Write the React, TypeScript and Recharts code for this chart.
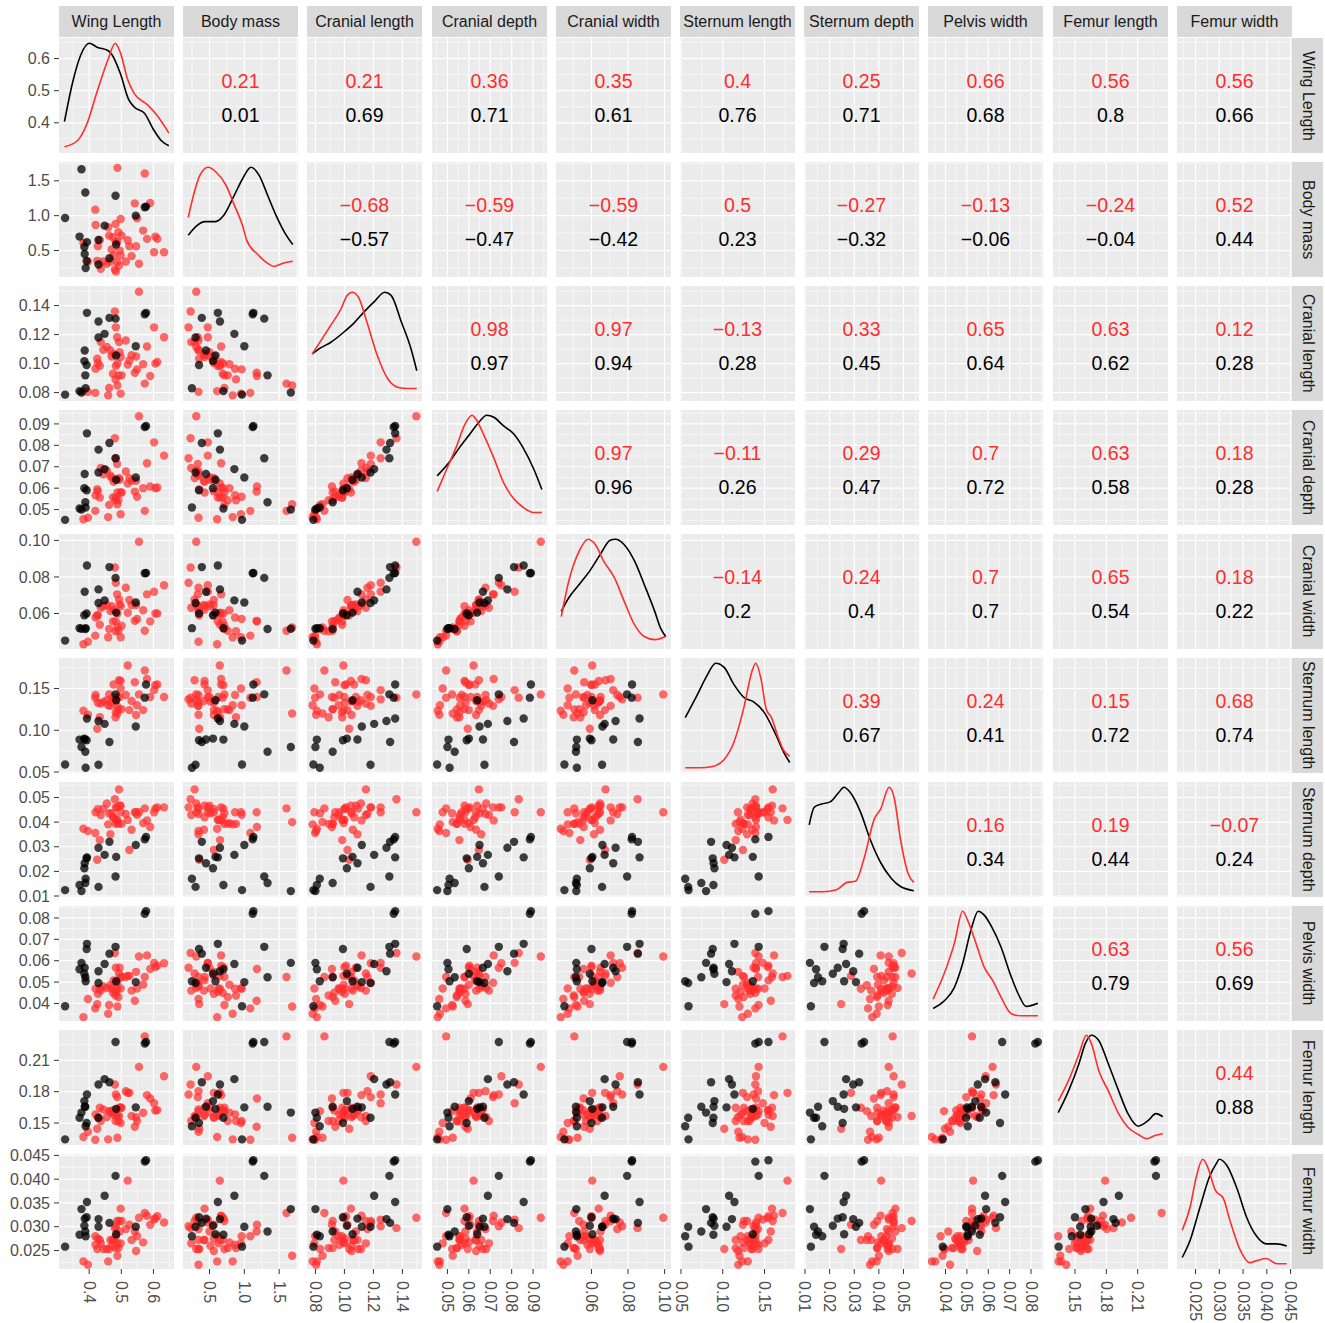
import React from 'react'
import { ComposedChart, Scatter, Line, XAxis, YAxis, CartesianGrid } from 'recharts'

const FONT = "'Liberation Sans', Arial, Helvetica, sans-serif"
const RED = '#FF2D2D'
const PANEL_BG = '#EBEBEB'
const PANEL = 115
const AXIS_W = 57
const AXIS_H = 56
const PAD = 14 // room around each panel so edge tick labels are not clipped

const varNames = [
  'Wing Length', 'Body mass', 'Cranial length', 'Cranial depth', 'Cranial width',
  'Sternum length', 'Sternum depth', 'Pelvis width', 'Femur length', 'Femur width',
]

// scale limits and breaks per measurement
const limits = [
  [0.306, 0.664], [0.12, 1.77], [0.0742, 0.1535], [0.0428, 0.0965], [0.0406, 0.1035],
  [0.0488, 0.1865], [0.0096, 0.0563], [0.0318, 0.0856], [0.129, 0.239], [0.0211, 0.0453],
]
const breaks = [
  [0.4, 0.5, 0.6],
  [0.5, 1.0, 1.5],
  [0.08, 0.10, 0.12, 0.14],
  [0.05, 0.06, 0.07, 0.08, 0.09],
  [0.06, 0.08, 0.10],
  [0.05, 0.10, 0.15],
  [0.01, 0.02, 0.03, 0.04, 0.05],
  [0.04, 0.05, 0.06, 0.07, 0.08],
  [0.15, 0.18, 0.21],
  [0.025, 0.030, 0.035, 0.040, 0.045],
]
const decimals = [1, 1, 2, 2, 2, 2, 2, 2, 2, 3]

// red group, one entry per bird
const redWing = [0.382, 0.396, 0.419, 0.420, 0.425, 0.427, 0.433, 0.436, 0.444, 0.455, 0.459, 0.462, 0.466, 0.470, 0.474, 0.476, 0.480, 0.482, 0.483, 0.483, 0.487, 0.488, 0.488, 0.491, 0.493, 0.495, 0.498, 0.501, 0.498, 0.514, 0.520, 0.525, 0.532, 0.542, 0.546, 0.549, 0.555, 0.568, 0.573, 0.580, 0.590, 0.602, 0.606, 0.612, 0.633]
const redMass = [0.610, 0.343, 1.086, 0.867, 0.352, 0.562, 0.652, 0.238, 0.343, 0.310, 0.833, 0.714, 0.343, 0.514, 0.690, 0.429, 0.229, 0.881, 0.200, 0.620, 0.333, 0.629, 1.686, 0.762, 0.286, 0.500, 0.430, 0.714, 0.952, 0.343, 0.648, 0.562, 0.420, 1.176, 0.562, 0.962, 0.310, 0.786, 1.605, 0.667, 1.181, 0.476, 0.700, 0.667, 0.476]
const redCranLen = [0.0810, 0.0805, 0.0798, 0.0965, 0.1033, 0.1003, 0.0985, 0.1148, 0.1095, 0.1114, 0.0781, 0.0832, 0.1090, 0.1049, 0.0930, 0.1067, 0.1359, 0.0891, 0.1250, 0.0983, 0.1182, 0.1000, 0.0849, 0.0919, 0.1148, 0.1079, 0.1045, 0.0919, 0.0793, 0.1159, 0.0993, 0.1021, 0.1058, 0.0937, 0.1049, 0.0960, 0.1496, 0.0995, 0.0862, 0.1118, 0.0914, 0.1250, 0.1000, 0.1011, 0.1182]
const redCranDepth = [0.0455, 0.0462, 0.0494, 0.0567, 0.0595, 0.0585, 0.0556, 0.0694, 0.0665, 0.0681, 0.0465, 0.0522, 0.0658, 0.0650, 0.0557, 0.0630, 0.0833, 0.0544, 0.0740, 0.0556, 0.0713, 0.0580, 0.0525, 0.0544, 0.0647, 0.0639, 0.0580, 0.0580, 0.0478, 0.0678, 0.0622, 0.0647, 0.0634, 0.0584, 0.0634, 0.0560, 0.0936, 0.0600, 0.0494, 0.0716, 0.0608, 0.0814, 0.0600, 0.0603, 0.0752]
const redCranWidth = [0.0432, 0.0446, 0.0479, 0.0578, 0.0591, 0.0590, 0.0539, 0.0632, 0.0640, 0.0647, 0.0470, 0.0515, 0.0614, 0.0640, 0.0557, 0.0620, 0.0852, 0.0503, 0.0768, 0.0557, 0.0705, 0.0600, 0.0524, 0.0506, 0.0677, 0.0650, 0.0640, 0.0533, 0.0470, 0.0741, 0.0604, 0.0674, 0.0647, 0.0560, 0.0647, 0.0570, 0.0993, 0.0618, 0.0506, 0.0705, 0.0557, 0.0719, 0.0600, 0.0600, 0.0755]
const redSternLen = [0.1233, 0.1186, 0.1390, 0.1422, 0.1018, 0.1330, 0.1155, 0.1320, 0.1340, 0.1359, 0.1300, 0.1429, 0.1292, 0.1343, 0.1390, 0.1547, 0.1390, 0.1155, 0.1370, 0.1214, 0.1292, 0.1398, 0.1200, 0.1250, 0.1598, 0.1398, 0.1590, 0.1253, 0.1500, 0.1422, 0.1775, 0.1241, 0.1351, 0.1575, 0.1182, 0.1300, 0.1429, 0.1241, 0.1716, 0.1614, 0.1398, 0.1480, 0.1540, 0.1547, 0.1398]
const redSternDepth = [0.0373, 0.0364, 0.0356, 0.0440, 0.0247, 0.0453, 0.0327, 0.0429, 0.0455, 0.0476, 0.0391, 0.0436, 0.0351, 0.0436, 0.0420, 0.0420, 0.0493, 0.0393, 0.0460, 0.0410, 0.0460, 0.0409, 0.0400, 0.0393, 0.0533, 0.0467, 0.0467, 0.0393, 0.0440, 0.0433, 0.0409, 0.0287, 0.0369, 0.0440, 0.0440, 0.0430, 0.0440, 0.0396, 0.0456, 0.0407, 0.0380, 0.0440, 0.0455, 0.0460, 0.0460]
const redPelvis = [0.0336, 0.0421, 0.0377, 0.0469, 0.0397, 0.0445, 0.0469, 0.0460, 0.0480, 0.0472, 0.0352, 0.0393, 0.0485, 0.0470, 0.0450, 0.0508, 0.0636, 0.0437, 0.0567, 0.0455, 0.0497, 0.0469, 0.0386, 0.0430, 0.0540, 0.0567, 0.0524, 0.0524, 0.0470, 0.0524, 0.0529, 0.0529, 0.0460, 0.0413, 0.0548, 0.0470, 0.0620, 0.0488, 0.0524, 0.0625, 0.0561, 0.0590, 0.0570, 0.0577, 0.0588]
const redFemurLen = [0.1367, 0.1417, 0.1340, 0.1583, 0.1446, 0.1550, 0.1646, 0.1519, 0.1630, 0.1557, 0.1344, 0.1614, 0.1614, 0.1600, 0.1620, 0.1580, 0.1868, 0.1519, 0.1773, 0.1580, 0.1748, 0.1567, 0.1360, 0.1520, 0.1567, 0.1650, 0.1646, 0.1646, 0.1500, 0.1805, 0.1789, 0.1789, 0.1567, 0.1465, 0.1557, 0.1520, 0.2037, 0.1598, 0.2329, 0.1767, 0.1735, 0.1690, 0.1620, 0.1624, 0.1948]
const redFemurWidth = [0.0227, 0.0220, 0.0280, 0.0262, 0.0253, 0.0275, 0.0272, 0.0265, 0.0253, 0.0253, 0.0227, 0.0253, 0.0272, 0.0260, 0.0272, 0.0272, 0.0297, 0.0255, 0.0301, 0.0280, 0.0312, 0.0265, 0.0239, 0.0255, 0.0312, 0.0290, 0.0338, 0.0312, 0.0265, 0.0295, 0.0397, 0.0304, 0.0272, 0.0290, 0.0249, 0.0280, 0.0319, 0.0267, 0.0329, 0.0323, 0.0304, 0.0315, 0.0318, 0.0322, 0.0309]

// black group
const blackWing = [0.325, 0.376, 0.370, 0.389, 0.388, 0.385, 0.386, 0.393, 0.392, 0.429, 0.429, 0.448, 0.463, 0.482, 0.484, 0.545, 0.577, 0.573]
const blackMass = [0.967, 1.667, 0.700, 0.248, 1.333, 0.550, 0.450, 0.620, 0.350, 0.650, 0.300, 0.857, 0.390, 1.286, 0.586, 1.000, 1.130, 1.120]
const blackCranLen = [0.0786, 0.0800, 0.0810, 0.0830, 0.0919, 0.1017, 0.1090, 0.1350, 0.0990, 0.1290, 0.1180, 0.1205, 0.1315, 0.1310, 0.1056, 0.1120, 0.1350, 0.1340]
const blackCranDepth = [0.0452, 0.0500, 0.0505, 0.0510, 0.0534, 0.0600, 0.0666, 0.0856, 0.0590, 0.0780, 0.0673, 0.0689, 0.0811, 0.0740, 0.0639, 0.0650, 0.0890, 0.0885]
const blackCranWidth = [0.0452, 0.0517, 0.0520, 0.0520, 0.0515, 0.0591, 0.0719, 0.0863, 0.0600, 0.0732, 0.0658, 0.0672, 0.0854, 0.0795, 0.0605, 0.0660, 0.0822, 0.0820]
const blackSternLen = [0.0590, 0.0800, 0.0888, 0.0550, 0.0743, 0.0900, 0.0890, 0.1140, 0.0880, 0.1110, 0.0586, 0.1076, 0.0860, 0.1430, 0.1360, 0.1045, 0.1547, 0.1390]
const blackSternDepth = [0.0124, 0.0120, 0.0145, 0.0170, 0.0153, 0.0213, 0.0233, 0.0257, 0.0253, 0.0296, 0.0137, 0.0267, 0.0320, 0.0179, 0.0259, 0.0307, 0.0340, 0.0330]
const blackPelvis = [0.0387, 0.0590, 0.0560, 0.0504, 0.0523, 0.0539, 0.0567, 0.0679, 0.0655, 0.0551, 0.0496, 0.0585, 0.0633, 0.0665, 0.0504, 0.0500, 0.0832, 0.0820]
const blackFemurLen = [0.1344, 0.1600, 0.1550, 0.1470, 0.1656, 0.1710, 0.1656, 0.1773, 0.1500, 0.1868, 0.1550, 0.1920, 0.1890, 0.2275, 0.1636, 0.1650, 0.2275, 0.2260]
const blackFemurWidth = [0.0258, 0.0337, 0.0283, 0.0280, 0.0290, 0.0302, 0.0317, 0.0352, 0.0320, 0.0316, 0.0300, 0.0365, 0.0308, 0.0407, 0.0284, 0.0300, 0.0440, 0.0437]

// density curves on the diagonal: [value, density relative to panel peak]
const wingDensRed = [[0.323, 0.01], [0.364, 0.07], [0.393, 0.23], [0.426, 0.55], [0.458, 0.84], [0.481, 1], [0.497, 0.91], [0.52, 0.65], [0.54, 0.52], [0.582, 0.41], [0.611, 0.31], [0.648, 0.14]]
const wingDensBlack = [[0.323, 0.25], [0.348, 0.62], [0.374, 0.89], [0.4, 1], [0.426, 0.96], [0.458, 0.93], [0.471, 0.89], [0.497, 0.71], [0.523, 0.46], [0.54, 0.39], [0.572, 0.33], [0.601, 0.17], [0.624, 0.07], [0.648, 0.02]]
const massDensRed = [[0.195, 0.52], [0.27, 0.73], [0.36, 0.92], [0.48, 1], [0.6, 0.95], [0.735, 0.83], [0.855, 0.64], [0.975, 0.44], [1.035, 0.3], [1.185, 0.17], [1.335, 0.08], [1.425, 0.05], [1.545, 0.08], [1.695, 0.1]]
const massDensBlack = [[0.195, 0.35], [0.315, 0.44], [0.435, 0.48], [0.585, 0.48], [0.705, 0.54], [0.855, 0.73], [0.975, 0.89], [1.095, 1], [1.215, 0.92], [1.335, 0.73], [1.455, 0.54], [1.575, 0.38], [1.695, 0.26]]
const cranLenDensRed = [[0.0778, 0.4], [0.0839, 0.53], [0.0904, 0.67], [0.0976, 0.83], [0.1019, 0.96], [0.1055, 0.99], [0.1098, 0.94], [0.1156, 0.7], [0.1228, 0.38], [0.13, 0.16], [0.1372, 0.08], [0.1437, 0.07], [0.1499, 0.07]]
const cranLenDensBlack = [[0.0778, 0.4], [0.0839, 0.46], [0.0904, 0.51], [0.0997, 0.61], [0.1069, 0.7], [0.1134, 0.8], [0.1206, 0.9], [0.1278, 0.99], [0.1322, 0.96], [0.1394, 0.7], [0.1459, 0.45], [0.1499, 0.24]]
const cranDepthDensRed = [[0.0452, 0.27], [0.0498, 0.49], [0.0542, 0.7], [0.0581, 0.91], [0.0615, 1], [0.0634, 0.96], [0.0668, 0.82], [0.0717, 0.59], [0.0761, 0.36], [0.081, 0.2], [0.0853, 0.12], [0.0902, 0.07], [0.0941, 0.07]]
const cranDepthDensBlack = [[0.0452, 0.42], [0.0512, 0.56], [0.0556, 0.69], [0.0605, 0.82], [0.0654, 0.95], [0.0683, 1], [0.0717, 0.98], [0.0761, 0.9], [0.081, 0.82], [0.0853, 0.69], [0.0902, 0.49], [0.0941, 0.29]]
const cranWidthDensRed = [[0.0435, 0.26], [0.0476, 0.6], [0.0534, 0.89], [0.058, 1], [0.0621, 0.95], [0.0667, 0.79], [0.0726, 0.63], [0.0778, 0.41], [0.0836, 0.18], [0.0888, 0.07], [0.0946, 0.04], [0.1006, 0.07]]
const cranWidthDensBlack = [[0.0435, 0.31], [0.0476, 0.44], [0.0534, 0.57], [0.0592, 0.7], [0.065, 0.86], [0.0702, 0.99], [0.0731, 1], [0.0778, 0.95], [0.0836, 0.79], [0.0888, 0.57], [0.0946, 0.31], [0.0978, 0.15], [0.1006, 0.07]]
const sternLenDensRed = [[0.0551, 0], [0.0727, 0], [0.0866, 0.01], [0.1017, 0.08], [0.1131, 0.24], [0.1257, 0.59], [0.1345, 0.91], [0.1395, 1], [0.1458, 0.85], [0.1521, 0.56], [0.1584, 0.48], [0.166, 0.3], [0.1735, 0.16], [0.1802, 0.11]]
const sternLenDensBlack = [[0.0551, 0.48], [0.069, 0.69], [0.0803, 0.87], [0.0916, 1], [0.1017, 0.96], [0.1131, 0.8], [0.1257, 0.67], [0.137, 0.63], [0.1496, 0.53], [0.1622, 0.34], [0.1735, 0.14], [0.1802, 0.05]]
const sternDepthDensRed = [[0.0117, 0], [0.0173, 0], [0.0228, 0.02], [0.0271, 0.09], [0.0305, 0.1], [0.0339, 0.31], [0.0382, 0.7], [0.0407, 0.79], [0.0442, 1], [0.0463, 0.89], [0.0488, 0.5], [0.0518, 0.18], [0.0542, 0.09]]
const sternDepthDensBlack = [[0.0117, 0.64], [0.0138, 0.81], [0.0168, 0.84], [0.0202, 0.86], [0.0237, 0.95], [0.0258, 1], [0.0284, 0.95], [0.0326, 0.76], [0.0365, 0.5], [0.0407, 0.28], [0.045, 0.13], [0.0488, 0.05], [0.0542, 0.01]]
const pelvisDensRed = [[0.0342, 0.16], [0.0393, 0.4], [0.0441, 0.69], [0.048, 1], [0.0504, 0.91], [0.0543, 0.69], [0.0582, 0.46], [0.062, 0.34], [0.0659, 0.18], [0.0708, 0.02], [0.0751, 0], [0.0832, 0]]
const pelvisDensBlack = [[0.0342, 0.07], [0.0393, 0.14], [0.0441, 0.27], [0.048, 0.5], [0.0519, 0.82], [0.0553, 1], [0.0582, 0.96], [0.0616, 0.85], [0.0659, 0.66], [0.0708, 0.37], [0.0747, 0.18], [0.0776, 0.09], [0.0832, 0.12]]
const femurLenDensRed = [[0.134, 0.37], [0.144, 0.57], [0.1539, 0.82], [0.1609, 1], [0.1658, 0.92], [0.1728, 0.66], [0.1818, 0.47], [0.1917, 0.25], [0.2007, 0.12], [0.2106, 0.05], [0.2186, 0.01], [0.2265, 0.04], [0.234, 0.06]]
const femurLenDensBlack = [[0.134, 0.26], [0.144, 0.47], [0.1539, 0.73], [0.1599, 0.92], [0.1658, 1], [0.1728, 0.95], [0.1818, 0.73], [0.1917, 0.47], [0.2007, 0.25], [0.2106, 0.13], [0.2196, 0.18], [0.2275, 0.25], [0.234, 0.22]]
const femurWidthDensRed = [[0.0222, 0.32], [0.0239, 0.55], [0.0252, 0.84], [0.0265, 1], [0.0276, 0.92], [0.0291, 0.71], [0.0309, 0.62], [0.0322, 0.42], [0.0344, 0.13], [0.0364, 0.01], [0.0379, 0.03], [0.0399, 0.05], [0.0421, 0], [0.0442, 0]]
const femurWidthDensBlack = [[0.0222, 0.06], [0.0239, 0.23], [0.0258, 0.52], [0.028, 0.84], [0.0294, 0.96], [0.03, 1], [0.0316, 0.94], [0.0338, 0.71], [0.0357, 0.45], [0.0379, 0.26], [0.0399, 0.19], [0.0421, 0.19], [0.0442, 0.17]]

// correlations, upper triangle row by row (red group, black group)
const corrRed = [
  [0.21, 0.21, 0.36, 0.35, 0.4, 0.25, 0.66, 0.56, 0.56],
  [-0.68, -0.59, -0.59, 0.5, -0.27, -0.13, -0.24, 0.52],
  [0.98, 0.97, -0.13, 0.33, 0.65, 0.63, 0.12],
  [0.97, -0.11, 0.29, 0.7, 0.63, 0.18],
  [-0.14, 0.24, 0.7, 0.65, 0.18],
  [0.39, 0.24, 0.15, 0.68],
  [0.16, 0.19, -0.07],
  [0.63, 0.56],
  [0.44],
]
const corrBlack = [
  [0.01, 0.69, 0.71, 0.61, 0.76, 0.71, 0.68, 0.8, 0.66],
  [-0.57, -0.47, -0.42, 0.23, -0.32, -0.06, -0.04, 0.44],
  [0.97, 0.94, 0.28, 0.45, 0.64, 0.62, 0.28],
  [0.96, 0.26, 0.47, 0.72, 0.58, 0.28],
  [0.2, 0.4, 0.7, 0.54, 0.22],
  [0.67, 0.41, 0.72, 0.74],
  [0.34, 0.44, 0.24],
  [0.79, 0.69],
  [0.88],
]

const redCols = [redWing, redMass, redCranLen, redCranDepth, redCranWidth, redSternLen, redSternDepth, redPelvis, redFemurLen, redFemurWidth]
const blackCols = [blackWing, blackMass, blackCranLen, blackCranDepth, blackCranWidth, blackSternLen, blackSternDepth, blackPelvis, blackFemurLen, blackFemurWidth]
const densRed = [wingDensRed, massDensRed, cranLenDensRed, cranDepthDensRed, cranWidthDensRed, sternLenDensRed, sternDepthDensRed, pelvisDensRed, femurLenDensRed, femurWidthDensRed]
const densBlack = [wingDensBlack, massDensBlack, cranLenDensBlack, cranDepthDensBlack, cranWidthDensBlack, sternLenDensBlack, sternDepthDensBlack, pelvisDensBlack, femurLenDensBlack, femurWidthDensBlack]

const colX = (c: number) => Math.round(59 + 124.2 * c)
const rowY = (r: number) => Math.round(38 + 124.05 * r)

const fmtCorr = (v: number) => (v < 0 ? '\u2212' + String(-v) : String(v))

function minorBreaks(b: number[], lim: number[]) {
  const step = b[1] - b[0]
  const out = [b[0] - step / 2]
  b.forEach((v) => out.push(v + step / 2))
  return out.filter((v) => v > lim[0] && v < lim[1])
}

const redDot = (p: any) => <circle cx={p.cx} cy={p.cy} r={4.2} fill={RED} fillOpacity={0.7} />
const blackDot = (p: any) => <circle cx={p.cx} cy={p.cy} r={4.2} fill="#000" fillOpacity={0.75} />

function RotTick(props: any) {
  const { x, y, payload, dec } = props
  return (
    <text
      transform={`translate(${x},${y + 7}) rotate(90)`}
      textAnchor="start"
      dominantBaseline="central"
      fill="#4D4D4D"
      fontSize={16}
    >
      {Number(payload.value).toFixed(dec)}
    </text>
  )
}

function Panel({ r, c }: { r: number; c: number }) {
  const padL = c === 0 ? AXIS_W : 0
  const padB = r === 9 ? AXIS_H : 0
  const isDiag = r === c
  const isLower = r > c

  const pairs = (xs: number[], ys: number[]) => xs.map((x, i) => ({ x, y: ys[i] }))
  const dens = (a: number[][]) => a.map(([x, d]) => ({ x, d }))

  return (
    <div style={{ position: 'absolute', left: colX(c) - padL - PAD, top: rowY(r) - PAD }}>
      <ComposedChart
        width={PANEL + padL + 2 * PAD}
        height={PANEL + padB + 2 * PAD}
        margin={{ top: PAD, right: PAD, bottom: PAD, left: PAD }}
      >
        <CartesianGrid
          fill={PANEL_BG}
          stroke="#FFFFFF"
          strokeWidth={0.6}
          horizontalValues={minorBreaks(breaks[r], limits[r])}
          verticalValues={minorBreaks(breaks[c], limits[c])}
        />
        <CartesianGrid
          stroke="#FFFFFF"
          strokeWidth={1.2}
          horizontalValues={breaks[r]}
          verticalValues={breaks[c]}
        />
        <XAxis
          type="number"
          dataKey="x"
          domain={limits[c]}
          allowDataOverflow
          ticks={breaks[c]}
          interval={0}
          hide={r !== 9}
          height={AXIS_H}
          tickSize={5}
          tickMargin={0}
          axisLine={false}
          tickLine={{ stroke: '#333333' }}
          tick={(p: any) => <RotTick {...p} dec={decimals[c]} />}
        />
        <YAxis
          type="number"
          dataKey="y"
          domain={limits[r]}
          allowDataOverflow
          ticks={breaks[r]}
          interval={0}
          hide={c !== 0}
          width={AXIS_W}
          tickSize={5}
          tickMargin={4}
          axisLine={false}
          tickLine={{ stroke: '#333333' }}
          tick={{ fill: '#4D4D4D', fontSize: 16 }}
          tickFormatter={(v: number) => v.toFixed(decimals[r])}
        />
        {isDiag && <YAxis yAxisId="d" type="number" domain={[-0.05, 1.05]} allowDataOverflow hide />}
        {isDiag && (
          <Line yAxisId="d" data={dens(densBlack[r])} dataKey="d" type="monotone" stroke="#000000"
            strokeWidth={1.6} dot={false} activeDot={false} isAnimationActive={false} />
        )}
        {isDiag && (
          <Line yAxisId="d" data={dens(densRed[r])} dataKey="d" type="monotone" stroke={RED}
            strokeWidth={1.6} dot={false} activeDot={false} isAnimationActive={false} />
        )}
        {isLower && (
          <Scatter data={pairs(redCols[c], redCols[r])} dataKey="y" shape={redDot} isAnimationActive={false} />
        )}
        {isLower && (
          <Scatter data={pairs(blackCols[c], blackCols[r])} dataKey="y" shape={blackDot} isAnimationActive={false} />
        )}
      </ComposedChart>
    </div>
  )
}

function CorrText({ r, c }: { r: number; c: number }) {
  const cx = colX(c) + PANEL / 2
  const base: React.CSSProperties = {
    position: 'absolute',
    left: cx,
    transform: 'translate(-50%, -50%)',
    fontSize: 19.5,
    lineHeight: 1,
    whiteSpace: 'nowrap',
  }
  return (
    <>
      <div style={{ ...base, top: rowY(r) + 44, color: RED }}>{fmtCorr(corrRed[r][c - r - 1])}</div>
      <div style={{ ...base, top: rowY(r) + 78, color: '#000' }}>{fmtCorr(corrBlack[r][c - r - 1])}</div>
    </>
  )
}

export default function App() {
  const idx = varNames.map((_, i) => i)
  return (
    <div
      style={{
        position: 'absolute',
        left: 0,
        top: 0,
        width: 1325,
        height: 1323,
        background: '#FFFFFF',
        fontFamily: FONT,
        overflow: 'hidden',
      }}
    >
      {idx.map((c) => (
        <div
          key={'top' + c}
          style={{
            position: 'absolute', left: colX(c), top: 6, width: PANEL, height: 31,
            background: '#D9D9D9', color: '#1A1A1A', fontSize: 16,
            display: 'flex', alignItems: 'center', justifyContent: 'center', whiteSpace: 'nowrap',
          }}
        >
          {varNames[c]}
        </div>
      ))}
      {idx.map((r) => (
        <div
          key={'side' + r}
          style={{
            position: 'absolute', left: 1292, top: rowY(r), width: 31, height: PANEL,
            background: '#D9D9D9', color: '#1A1A1A', fontSize: 16,
            display: 'flex', alignItems: 'center', justifyContent: 'center',
            writingMode: 'vertical-rl', whiteSpace: 'nowrap',
          }}
        >
          {varNames[r]}
        </div>
      ))}
      {idx.map((r) => idx.map((c) => <Panel key={r + '-' + c} r={r} c={c} />))}
      {idx.map((r) => idx.filter((c) => c > r).map((c) => <CorrText key={'t' + r + '-' + c} r={r} c={c} />))}
    </div>
  )
}
